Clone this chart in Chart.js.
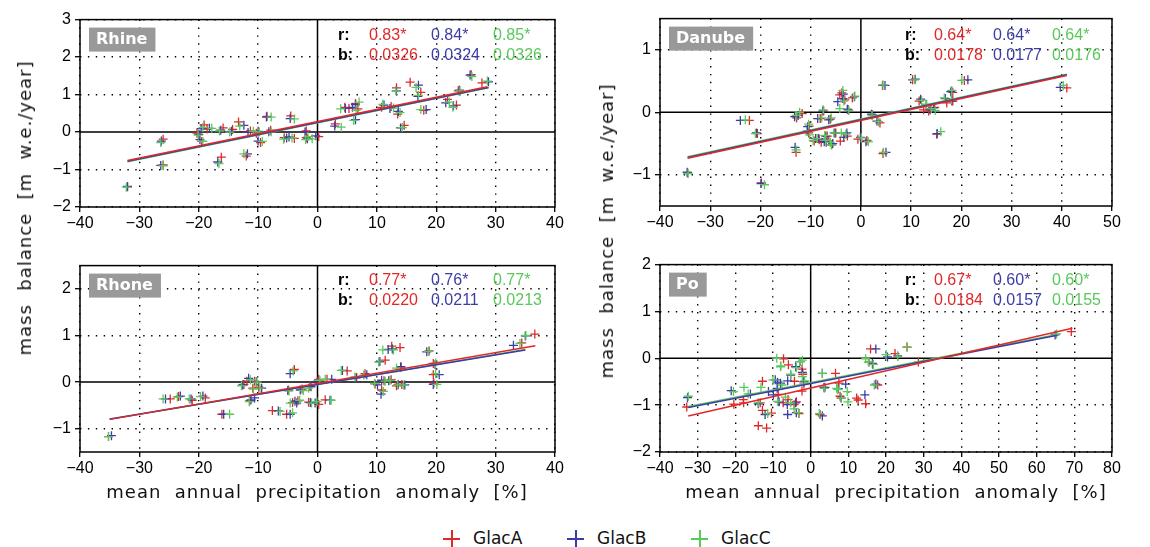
<!DOCTYPE html>
<html>
<head>
<meta charset="utf-8">
<script src="https://cdn.jsdelivr.net/npm/chart.js@4.4.1/dist/chart.umd.min.js"></script>
<style>
body{margin:0;background:#fff;width:1150px;height:547px;position:relative;overflow:hidden;font-family:"DejaVu Sans",sans-serif}
canvas{position:absolute}
.lab{position:absolute;white-space:pre;font-size:18px;letter-spacing:1px;color:#111;line-height:20px}
.ylab{transform:translate(-50%,-50%) rotate(-90deg)}
.xlab{transform:translate(-50%,-50%)}
.leg{position:absolute;font-size:17px;color:#111;line-height:20px;top:528px}
.cross{position:absolute;width:17px;height:17px;top:530px}
.cross:before,.cross:after{content:"";position:absolute;background:var(--c)}
.cross:before{left:0;top:7.5px;width:17px;height:2px}
.cross:after{left:7.5px;top:0;width:2px;height:17px}
</style>
</head>
<body>
<canvas id="c_rhine"></canvas>
<canvas id="c_danube"></canvas>
<canvas id="c_rhone"></canvas>
<canvas id="c_po"></canvas>

<div class="lab ylab" style="left:25px;top:208px">mass  balance  [m  w.e./year]</div>
<div class="lab ylab" style="left:607px;top:231px">mass  balance  [m  w.e./year]</div>
<div class="lab xlab" style="left:317px;top:492px">mean  annual  precipitation  anomaly  [%]</div>
<div class="lab xlab" style="left:896px;top:492px">mean  annual  precipitation  anomaly  [%]</div>

<div class="cross" style="left:443px;--c:#e02828"></div><div class="leg" style="left:473px">GlacA</div>
<div class="cross" style="left:567px;--c:#3c3ca8"></div><div class="leg" style="left:597px">GlacB</div>
<div class="cross" style="left:691px;--c:#5ac85a"></div><div class="leg" style="left:721px">GlacC</div>

<script>
const glaciers = ['GlacA', 'GlacB', 'GlacC'];
const colors = ['#e02828', '#3c3ca8', '#5ac85a'];

// ---- Rhine ----
const rhineXRange = [-40, 40];
const rhineYRange = [-2, 3];
const rhineXTicks = [-40, -30, -20, -10, 0, 10, 20, 30, 40];
const rhineYTicks = [-2, -1, 0, 1, 2, 3];
const rhineR = ['0.83*', '0.84*', '0.85*'];
const rhineB = ['0.0326', '0.0324', '0.0326'];
const rhineA = [[-32.0,-1.46],[-26.0,-0.19],[-26.0,-0.88],[-20.3,-0.03],[-19.1,0.19],[-19.5,-0.25],[-18.6,0.08],[-16.2,-0.67],[-15.9,0.11],[-14.3,0.07],[-13.3,0.27],[-12.0,-0.64],[-11.3,0.03],[-9.6,-0.28],[-10.3,-0.03],[-8.5,0.42],[-7.9,0.05],[-5.6,-0.15],[-4.5,0.43],[-3.9,-0.17],[-1.9,0.03],[-1.9,-0.15],[0.2,-0.12],[3.0,0.22],[4.6,0.66],[5.3,0.63],[6.8,0.62],[6.4,0.76],[10.8,0.66],[12.4,0.68],[13.3,1.18],[13.5,0.48],[14.6,0.18],[15.6,1.33],[17.4,1.06],[17.9,0.58],[21.9,0.87],[23.4,0.72],[23.7,1.10],[25.9,1.53],[27.7,1.31]];
const rhineBpts = [[-32.0,-1.45],[-26.3,-0.24],[-26.4,-0.89],[-20.0,-0.06],[-19.6,0.09],[-19.8,-0.20],[-18.2,0.10],[-16.8,-0.80],[-16.3,0.05],[-14.5,0.02],[-12.4,0.18],[-11.8,-0.58],[-11.7,-0.01],[-10.0,-0.24],[-10.0,0.02],[-8.6,0.40],[-8.2,0.01],[-5.2,-0.16],[-4.6,0.36],[-4.8,-0.13],[-2.1,0.00],[-1.7,-0.18],[-0.3,-0.10],[2.9,0.16],[4.7,0.63],[6.4,0.33],[5.9,0.66],[6.4,0.73],[11.2,0.72],[12.2,0.63],[13.3,1.10],[13.6,0.55],[14.0,0.11],[17.0,1.25],[16.9,0.95],[18.3,0.60],[21.6,0.78],[22.9,0.70],[23.9,1.12],[25.7,1.52],[28.8,1.34]];
const rhineC = [[-32.2,-1.47],[-26.4,-0.28],[-26.0,-0.90],[-20.1,-0.08],[-19.3,0.12],[-19.3,-0.25],[-17.8,0.10],[-16.6,-0.84],[-16.5,0.03],[-14.8,0.00],[-13.1,0.16],[-12.4,-0.58],[-10.8,0.02],[-9.3,-0.25],[-9.8,0.00],[-7.8,0.40],[-7.8,0.01],[-5.7,-0.19],[-3.9,0.35],[-4.3,-0.16],[-1.6,-0.12],[-2.0,-0.20],[-0.9,-0.18],[4.0,0.13],[3.9,0.62],[6.1,0.31],[6.5,0.58],[7.0,0.80],[11.0,0.74],[12.8,0.64],[13.2,1.10],[13.9,0.52],[14.3,0.12],[16.6,1.19],[17.0,0.98],[17.4,0.60],[22.2,0.80],[22.8,0.66],[24.0,1.10],[26.0,1.48],[28.6,1.36]];
const rhineFitA = [[-32, -0.76], [28.6, 1.21]];
const rhineFitB = [[-32, -0.78], [28.8, 1.19]];
const rhineFitC = [[-32, -0.79], [28.8, 1.18]];

// ---- Danube ----
const danubeXRange = [-40, 50];
const danubeYRange = [-1.5, 1.5];
const danubeXTicks = [-40, -30, -20, -10, 0, 10, 20, 30, 40, 50];
const danubeYTicks = [-1, 0, 1];
const danubeR = ['0.64*', '0.64*', '0.64*'];
const danubeB = ['0.0178', '0.0177', '0.0176'];
const danubeA = [[-34.5,-0.97],[-22.2,-0.13],[-20.6,-0.34],[-19.8,-1.13],[-12.8,-0.09],[-12.9,-0.64],[-11.7,-0.02],[-10.3,-0.22],[-10.4,-0.33],[-9.3,-0.46],[-8.1,-0.10],[-8.3,-0.44],[-7.9,-0.48],[-7.4,0.02],[-6.7,-0.38],[-6.4,-0.46],[-6.1,-0.11],[-5.8,-0.52],[-5.0,-0.33],[-4.2,0.28],[-3.8,0.31],[-3.2,0.20],[-4.1,-0.46],[-2.7,-0.38],[-2.5,0.04],[-1.7,0.23],[-0.6,-0.43],[1.2,-0.45],[2.3,-0.04],[3.8,-0.17],[4.3,0.43],[4.4,-0.66],[10.3,0.52],[11.6,0.18],[12.5,0.04],[13.5,0.02],[14.7,0.08],[15.1,-0.35],[17.1,0.15],[18.3,0.32],[18.3,0.18],[20.6,0.51],[41.0,0.39]];
const danubeBpts = [[-34.6,-0.96],[-24.0,-0.13],[-20.8,-0.33],[-19.9,-1.14],[-13.2,-0.07],[-13.1,-0.56],[-12.5,-0.05],[-10.6,-0.23],[-10.7,-0.30],[-9.0,-0.42],[-8.6,-0.10],[-8.4,-0.42],[-7.3,-0.47],[-7.6,0.02],[-7.0,-0.38],[-6.9,-0.48],[-6.4,-0.12],[-5.6,-0.50],[-5.2,-0.33],[-4.6,0.17],[-3.5,0.29],[-3.6,0.22],[-3.4,-0.40],[-2.8,-0.33],[-2.7,0.05],[-1.3,0.25],[-0.1,-0.40],[1.0,-0.47],[2.1,-0.03],[3.2,-0.14],[4.8,0.43],[5.0,-0.64],[10.8,0.53],[11.9,0.21],[13.0,0.12],[13.8,0.04],[14.5,0.07],[15.2,-0.34],[16.8,0.22],[17.9,0.33],[18.1,0.18],[21.3,0.52],[39.7,0.40]];
const danubeC = [[-34.4,-0.98],[-23.0,-0.12],[-21.0,-0.34],[-19.2,-1.16],[-12.9,-0.05],[-12.9,-0.60],[-12.2,0.00],[-10.4,-0.19],[-10.2,-0.36],[-9.5,-0.45],[-7.8,-0.09],[-8.7,-0.42],[-7.0,-0.45],[-7.5,0.04],[-7.2,-0.37],[-6.1,-0.48],[-5.9,-0.09],[-5.9,-0.52],[-5.4,-0.33],[-4.2,0.06],[-3.6,0.35],[-3.4,0.18],[-3.9,-0.33],[-3.0,-0.35],[-2.4,0.03],[-1.2,0.26],[0.1,-0.41],[1.5,-0.47],[2.2,-0.05],[3.5,-0.15],[4.4,0.44],[4.5,-0.64],[10.7,0.52],[12.1,0.19],[13.1,0.13],[14.0,0.06],[14.8,0.03],[15.9,-0.31],[16.6,0.23],[18.1,0.35],[18.0,0.20],[20.1,0.51],[40.3,0.43]];
const danubeFitA = [[-34.5, -0.735], [41, 0.59]];
const danubeFitB = [[-34.5, -0.725], [41, 0.60]];
const danubeFitC = [[-34.5, -0.71], [41, 0.61]];

// ---- Rhone ----
const rhoneXRange = [-40, 40];
const rhoneYRange = [-1.5, 2.5];
const rhoneXTicks = [-40, -30, -20, -10, 0, 10, 20, 30, 40];
const rhoneYTicks = [-1, 0, 1, 2];
const rhoneR = ['0.77*', '0.76*', '0.77*'];
const rhoneB = ['0.0220', '0.0211', '0.0213'];
const rhoneA = [[-35.2,-1.17],[-24.8,-0.36],[-23.4,-0.31],[-21.1,-0.39],[-18.9,-0.34],[-16.1,-0.69],[-12.4,-0.05],[-11.9,0.02],[-11.4,-0.40],[-10.9,-0.13],[-9.9,-0.11],[-10.6,0.02],[-7.6,-0.61],[-5.2,-0.69],[-4.9,-0.17],[-3.9,0.27],[-4.2,-0.44],[-3.3,-0.40],[-2.6,-0.15],[-1.5,-0.43],[-1.3,-0.09],[0.2,-0.48],[0.2,0.06],[1.3,-0.38],[1.6,0.06],[5.0,0.24],[6.6,0.10],[8.0,0.18],[9.7,-0.04],[11.4,0.47],[10.8,-0.17],[11.2,0.03],[12.5,0.77],[13.9,0.74],[12.4,0.05],[13.3,-0.08],[14.1,0.32],[14.2,-0.05],[18.8,0.67],[19.5,0.40],[19.5,0.16],[19.6,-0.02],[34.4,0.84],[36.6,1.03]];
const rhoneBpts = [[-34.7,-1.15],[-25.6,-0.36],[-23.1,-0.30],[-21.3,-0.36],[-19.3,-0.30],[-15.8,-0.69],[-12.6,-0.06],[-11.6,0.08],[-11.2,-0.38],[-10.6,-0.34],[-9.4,-0.13],[-10.3,0.01],[-6.6,-0.62],[-4.6,-0.69],[-5.0,-0.18],[-4.6,0.18],[-3.5,-0.45],[-3.8,-0.41],[-2.9,-0.17],[-1.2,-0.44],[-1.1,-0.10],[-0.4,-0.45],[0.0,0.02],[2.1,-0.39],[2.4,0.06],[4.2,0.25],[6.5,0.09],[8.3,0.16],[10.1,-0.06],[10.5,0.44],[10.7,-0.26],[10.8,0.04],[11.9,0.70],[12.6,0.71],[12.0,0.03],[13.6,-0.05],[14.0,0.33],[14.7,-0.06],[18.4,0.65],[19.8,0.38],[20.5,0.16],[19.5,-0.05],[33.0,0.79],[35.0,0.99]];
const rhoneC = [[-35.2,-1.17],[-26.0,-0.36],[-23.6,-0.32],[-21.6,-0.36],[-19.7,-0.31],[-14.8,-0.69],[-12.8,-0.08],[-11.3,0.05],[-11.5,-0.42],[-10.8,-0.15],[-9.7,-0.13],[-10.2,0.00],[-6.3,-0.63],[-4.2,-0.66],[-4.8,-0.19],[-4.1,0.24],[-4.6,-0.45],[-3.0,-0.39],[-2.4,-0.18],[-1.0,-0.45],[-1.5,-0.13],[-0.1,-0.42],[0.4,0.04],[2.3,-0.39],[1.3,0.06],[4.0,0.25],[6.3,0.11],[7.8,0.15],[9.6,-0.03],[10.3,0.43],[11.1,-0.20],[11.4,0.02],[11.0,0.69],[12.8,0.69],[12.2,0.04],[13.5,-0.06],[13.3,0.30],[14.5,-0.06],[18.7,0.66],[19.9,0.41],[19.9,0.18],[20.1,-0.05],[34.1,0.83],[35.1,1.00]];
const rhoneFitA = [[-35, -0.80], [36.7, 0.78]];
const rhoneFitB = [[-35, -0.79], [35, 0.69]];
const rhoneFitC = [[-35, -0.80], [35, 0.70]];

// ---- Po ----
const poXRange = [-40, 80];
const poYRange = [-2, 2];
const poXTicks = [-40, -30, -20, -10, 0, 10, 20, 30, 40, 50, 60, 70, 80];
const poYTicks = [-2, -1, 0, 1, 2];
const poR = ['0.67*', '0.60*', '0.60*'];
const poB = ['0.0184', '0.0157', '0.0155'];
const poA = [[-32.9,-1.04],[-20.4,-0.98],[-17.9,-0.88],[-17.8,-0.95],[-13.4,-0.95],[-13.9,-1.44],[-11.7,-1.49],[-12.8,-0.49],[-12.8,-1.11],[-10.4,-1.17],[-8.6,-0.77],[-7.2,-0.01],[-5.9,-0.14],[-4.3,-0.49],[-6.0,-0.88],[-3.8,-0.93],[-2.3,-0.23],[-2.1,-0.34],[-1.8,-0.55],[-2.3,-0.70],[-7.3,-0.95],[-4.4,-0.99],[-3.1,-1.18],[2.5,-1.20],[3.5,-0.62],[6.6,-0.32],[7.5,-0.53],[7.8,-0.81],[12.2,-0.85],[12.6,-0.89],[14.6,-0.97],[15.5,-0.08],[15.9,0.20],[16.5,-0.13],[17.8,-0.57],[22.4,0.10],[25.6,0.24],[28.6,-0.08],[69.2,0.57]];
const poBpts = [[-32.7,-0.84],[-21.1,-0.69],[-16.0,-0.76],[-13.9,-0.97],[-12.1,-1.20],[-11.2,-0.71],[-9.4,-0.46],[-8.8,-0.51],[-8.9,-0.64],[-8.4,-0.93],[-8.0,-0.53],[-6.1,-0.48],[-6.2,-0.99],[-6.1,-1.20],[-3.8,-1.16],[-4.0,-0.95],[-4.0,-0.18],[-2.8,-0.07],[-5.3,-0.36],[-1.8,-0.50],[-9.9,-0.78],[-2.2,-0.30],[3.1,-1.23],[3.1,-0.32],[3.8,-0.62],[7.3,-0.65],[8.1,-0.85],[9.3,-0.55],[14.4,-0.78],[16.4,-0.11],[17.3,0.20],[17.3,-0.55],[20.4,0.03],[23.1,0.05],[64.9,0.50]];
const poC = [[-32.5,-0.81],[-20.5,-0.71],[-17.7,-0.62],[-16.6,-0.76],[-13.9,-0.95],[-13.2,-0.62],[-10.0,-0.46],[-9.0,0.00],[-7.9,-0.16],[-8.8,-0.92],[-8.0,-0.18],[-7.6,-0.57],[-6.7,-0.83],[-5.3,-0.34],[-5.3,-0.95],[-4.4,-1.08],[-3.2,-1.16],[-3.8,-0.20],[-2.8,-0.07],[-2.2,-0.04],[-2.2,-0.39],[-1.6,-0.48],[-11.4,-1.18],[2.3,-1.18],[3.1,-0.32],[3.6,-0.64],[6.9,-0.64],[7.2,-0.67],[8.1,-0.85],[9.7,-0.71],[9.9,-0.93],[14.6,-0.01],[15.3,-0.08],[16.9,-0.57],[16.6,-0.13],[20.0,0.08],[23.1,0.04],[25.6,0.24],[65.3,0.52]];
const poFitA = [[-32.5, -1.23], [69.5, 0.64]];
const poFitB = [[-32.5, -1.05], [65.5, 0.49]];
const poFitC = [[-32.5, -1.03], [65.5, 0.51]];

// layout of the four panels (plot-area boxes in page pixels)
const panels = [
  {id:'c_rhine', name:'Rhine', box:{l:80,t:16,r:555,b:207}, statX:[258,289,351,413], statY:[16,36],
   xr:rhineXRange, yr:rhineYRange, xt:rhineXTicks, yt:rhineYTicks, pts:[rhineA,rhineBpts,rhineC],
   fits:[rhineFitA,rhineFitB,rhineFitC], r:rhineR, b:rhineB},
  {id:'c_danube', name:'Danube', box:{l:660,t:15,r:1112,b:206}, statX:[245,274,333,392], statY:[17,37],
   xr:danubeXRange, yr:danubeYRange, xt:danubeXTicks, yt:danubeYTicks, pts:[danubeA,danubeBpts,danubeC],
   fits:[danubeFitA,danubeFitB,danubeFitC], r:danubeR, b:danubeB},
  {id:'c_rhone', name:'Rhone', box:{l:80,t:262,r:555,b:452}, statX:[258,289,351,413], statY:[15,35],
   xr:rhoneXRange, yr:rhoneYRange, xt:rhoneXTicks, yt:rhoneYTicks, pts:[rhoneA,rhoneBpts,rhoneC],
   fits:[rhoneFitA,rhoneFitB,rhoneFitC], r:rhoneR, b:rhoneB},
  {id:'c_po', name:'Po', box:{l:660,t:261,r:1112,b:452}, statX:[245,274,333,392], statY:[16,36],
   xr:poXRange, yr:poYRange, xt:poXTicks, yt:poYTicks, pts:[poA,poBpts,poC],
   fits:[poFitA,poFitB,poFitC], r:poR, b:poB}
];

const PADL = 50, PADT = 10, PADR = 15, PADB = 30;
const tickFont = {family: 'Liberation Sans', size: 16};
const fmt = v => (v < 0 ? '\u2212' : '') + Math.abs(v);
const toXY = arr => arr.map(p => ({x: p[0], y: p[1]}));

function panelPlugin(p) {
  return {
    id: 'panelDeco',
    beforeDatasetsDraw(chart) {
      const {ctx, chartArea: a, scales} = chart;
      const x0 = scales.x.getPixelForValue(0), y0 = scales.y.getPixelForValue(0);
      ctx.save();
      ctx.strokeStyle = '#000';
      ctx.lineWidth = 1.5;
      ctx.beginPath();
      ctx.moveTo(x0, a.top); ctx.lineTo(x0, a.bottom);
      ctx.moveTo(a.left, y0); ctx.lineTo(a.right, y0);
      ctx.stroke();
      ctx.restore();
    },
    afterDraw(chart) {
      const {ctx, chartArea: a} = chart;
      ctx.save();
      ctx.strokeStyle = '#000';
      ctx.lineWidth = 1.5;
      ctx.strokeRect(a.left, a.top, a.right - a.left, a.bottom - a.top);
      // name box
      ctx.font = 'bold 16px "DejaVu Sans"';
      const w = ctx.measureText(p.name).width;
      ctx.fillStyle = '#999';
      ctx.fillRect(a.left + 9, a.top + 8, w + 15, 24);
      ctx.fillStyle = '#fff';
      ctx.textBaseline = 'middle';
      ctx.fillText(p.name, a.left + 16, a.top + 20.5);
      // stats
      ctx.font = 'bold 16px "Liberation Sans"';
      ctx.fillStyle = '#000';
      ctx.fillText('r:', a.left + p.statX[0], a.top + p.statY[0]);
      ctx.fillText('b:', a.left + p.statX[0], a.top + p.statY[1]);
      ctx.font = '16px "Liberation Sans"';
      for (let i = 0; i < 3; i++) {
        ctx.fillStyle = colors[i];
        ctx.fillText(p.r[i], a.left + p.statX[i + 1], a.top + p.statY[0]);
        ctx.fillText(p.b[i], a.left + p.statX[i + 1], a.top + p.statY[1]);
      }
      ctx.restore();
    }
  };
}

function axis(range, ticks, isX) {
  return {
    type: 'linear',
    min: range[0], max: range[1],
    afterBuildTicks: s => { s.ticks = ticks.map(v => ({value: v})); },
    afterFit: s => { if (isX) s.height = PADB; else s.width = PADL; },
    ticks: {font: tickFont, color: '#000', padding: isX ? 2 : 4, autoSkip: false, maxRotation: 0, callback: v => fmt(v)},
    grid: {
      color: c => (c.tick && c.tick.value === 0) ? 'rgba(0,0,0,0)' : '#000',
      lineWidth: 1.4, tickLength: 5, tickColor: '#000', tickWidth: 1.3
    },
    border: {display: false, dash: [1.4, 6.5]}
  };
}

panels.forEach(p => {
  const cv = document.getElementById(p.id);
  const W = p.box.r - p.box.l + PADL + PADR;
  const H = p.box.b - p.box.t + PADT + PADB;
  cv.width = W; cv.height = H;
  cv.style.left = (p.box.l - PADL) + 'px';
  cv.style.top = (p.box.t - PADT) + 'px';
  cv.style.width = W + 'px'; cv.style.height = H + 'px';

  const datasets = [];
  for (let i = 0; i < 3; i++) {
    datasets.push({type: 'line', label: glaciers[i] + ' fit', data: toXY(p.fits[i]),
      borderColor: colors[i], borderWidth: 1.5, pointRadius: 0, fill: false});
  }
  for (let i = 2; i >= 0; i--) {
    datasets.push({type: 'scatter', label: glaciers[i], data: toXY(p.pts[i]),
      pointStyle: 'cross', pointRadius: 4.5, borderColor: colors[i], borderWidth: 1.3,
      backgroundColor: colors[i]});
  }

  new Chart(cv, {
    type: 'scatter',
    data: {datasets},
    options: {
      responsive: false, animation: false, devicePixelRatio: 1,
      layout: {padding: {top: PADT, right: PADR, left: 0, bottom: 0}},
      plugins: {legend: {display: false}, tooltip: {enabled: false}},
      scales: {x: axis(p.xr, p.xt, true), y: axis(p.yr, p.yt, false)}
    },
    plugins: [panelPlugin(p)]
  });
});
</script>
</body>
</html>
